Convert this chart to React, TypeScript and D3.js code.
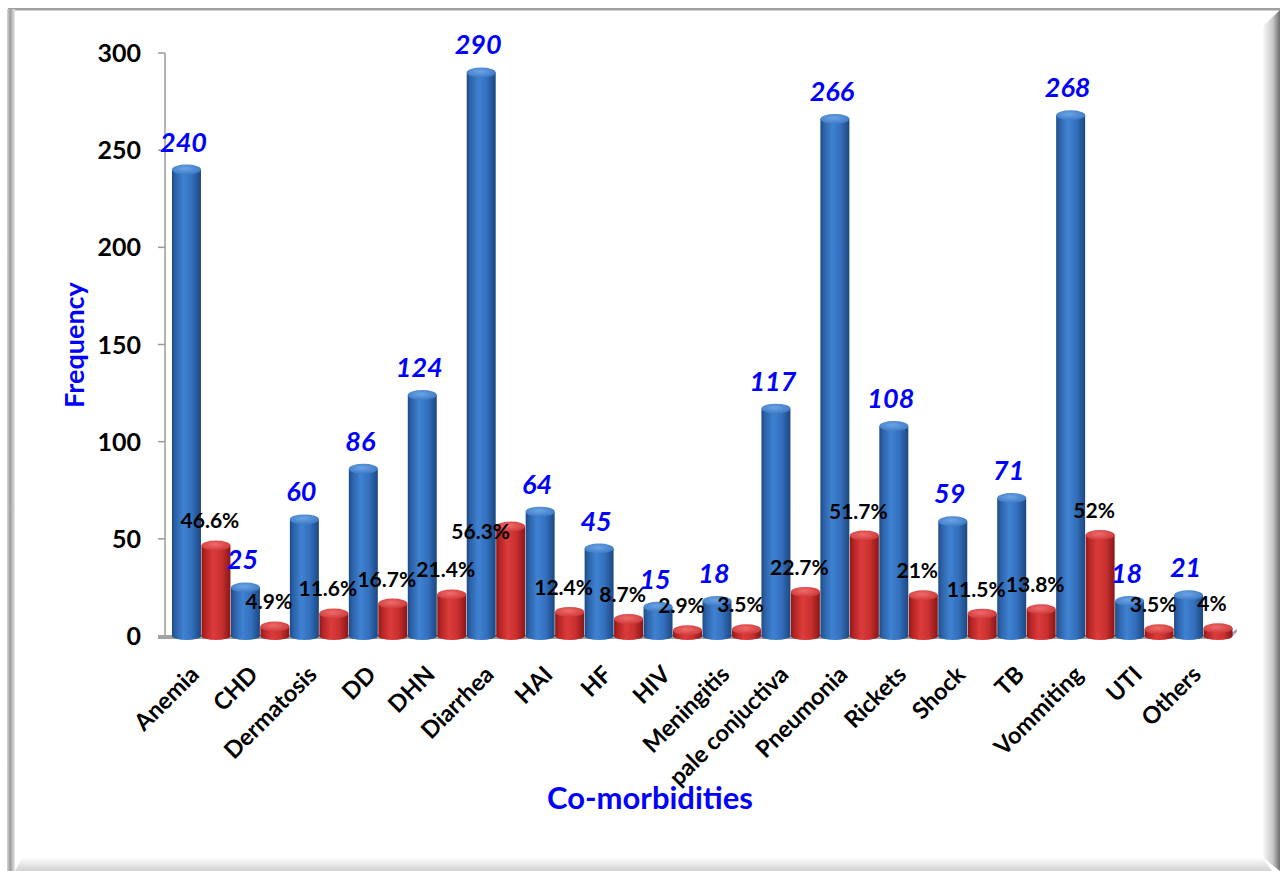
import React from "react";
import * as d3 from "d3";

const categories = [
  "Anemia", "CHD", "Dermatosis", "DD", "DHN", "Diarrhea", "HAI", "HF", "HIV",
  "Meningitis", "pale conjuctiva", "Pneumonia", "Rickets", "Shock", "TB",
  "Vommiting", "UTI", "Others",
];
const frequency = [240, 25, 60, 86, 124, 290, 64, 45, 15, 18, 117, 266, 108, 59, 71, 268, 18, 21];
const percent = [46.6, 4.9, 11.6, 16.7, 21.4, 56.3, 12.4, 8.7, 2.9, 3.5, 22.7, 51.7, 21, 11.5, 13.8, 52, 3.5, 4];
const percentLabels = ["46.6%", "4.9%", "11.6%", "16.7%", "21.4%", "56.3%", "12.4%", "8.7%", "2.9%", "3.5%", "22.7%", "51.7%", "21%", "11.5%", "13.8%", "52%", "3.5%", "4%"];
const yTicks = [0, 50, 100, 150, 200, 250, 300];
const seriesKeys = ["freq", "pct"];

const W = 1281;
const H = 871;
const FONT = "Lato, 'Open Sans', 'Liberation Sans', sans-serif";
const PCT_SIZE = 21;
const FREQ_SIZE = 27;

export default function App() {
  const y = d3.scaleLinear().domain([0, 300]).range([636, 53]);
  const x = d3.scaleBand<string>().domain(categories).range([172, 1233]).padding(0);
  const sub = d3.scaleBand<string>().domain(seriesKeys).range([0, x.bandwidth()]).padding(0);
  const bw = sub.bandwidth() - 0.5;
  const ry = 5;

  const cylinder = (key: string, i: number, v: number, kind: "blue" | "red") => {
    const x0 = (x(categories[i]) as number) + (sub(key) as number);
    const yTop = y(v);
    const yBase = y(0);
    const cx = x0 + bw / 2;
    return (
      <g key={key + i}>
        <rect x={x0} y={yTop} width={bw} height={Math.max(0, yBase - yTop)} fill={`url(#body-${kind})`} />
        <ellipse cx={cx} cy={yBase} rx={bw / 2} ry={ry - 1} fill={`url(#body-${kind})`} />
        <ellipse cx={cx} cy={yTop} rx={bw / 2} ry={ry} fill={`url(#cap-${kind})`} />
      </g>
    );
  };

  const freqX = (i: number) => (x(categories[i]) as number) + (sub("freq") as number) + bw / 2 - 3;
  const freqY = (i: number) => y(frequency[i]) - 18;
  const estWidth = (s: string, size: number) =>
    s.split("").reduce((a, ch) => a + (ch === "." ? 0.26 : ch === "%" ? 0.8 : 0.58) * size, 0);

  // percent label above its red bar, unless it would collide with the next blue value label
  const pctPos = categories.map((c, i) => {
    const rx = (x(c) as number) + (sub("pct") as number) + bw / 2;
    let px = rx - 6;
    let py = y(percent[i]) - 17;
    if (i + 1 < categories.length) {
      const right = px + estWidth(percentLabels[i], PCT_SIZE) / 2;
      const nextLeft = freqX(i + 1) - estWidth(String(frequency[i + 1]), FREQ_SIZE) / 2;
      if (Math.abs(freqY(i + 1) - py) < 26 && right - nextLeft > 10) {
        px = rx - 30;
        py = y(percent[i]) + 12;
      }
    }
    return [px, py];
  });

  return (
    <svg width={W} height={H} style={{ display: "block", position: "absolute", left: 0, top: 0 }}>
      <defs>
        <linearGradient id="body-blue" x1="0" x2="1" y1="0" y2="0">
          <stop offset="0" stopColor="#1d4a86" />
          <stop offset="0.12" stopColor="#2c62a8" />
          <stop offset="0.4" stopColor="#3f82d2" />
          <stop offset="0.7" stopColor="#336fbc" />
          <stop offset="1" stopColor="#1c4780" />
        </linearGradient>
        <linearGradient id="body-red" x1="0" x2="1" y1="0" y2="0">
          <stop offset="0" stopColor="#8f1717" />
          <stop offset="0.12" stopColor="#b42424" />
          <stop offset="0.4" stopColor="#dc3b3b" />
          <stop offset="0.7" stopColor="#c83030" />
          <stop offset="1" stopColor="#8a1616" />
        </linearGradient>
        <radialGradient id="cap-blue" cx="0.45" cy="0.4" r="0.7">
          <stop offset="0" stopColor="#6aa4e6" />
          <stop offset="1" stopColor="#3773c0" />
        </radialGradient>
        <radialGradient id="cap-red" cx="0.45" cy="0.4" r="0.7">
          <stop offset="0" stopColor="#f06a6a" />
          <stop offset="1" stopColor="#c83232" />
        </radialGradient>
        <linearGradient id="bevel-right" x1="0" x2="1" y1="0" y2="0">
          <stop offset="0" stopColor="#ffffff" />
          <stop offset="0.6" stopColor="#c8c8c8" />
          <stop offset="0.8" stopColor="#9a9a9a" />
          <stop offset="1" stopColor="#6e6e6e" />
        </linearGradient>
        <linearGradient id="bevel-bottom" x1="0" x2="0" y1="0" y2="1">
          <stop offset="0" stopColor="#ffffff" />
          <stop offset="1" stopColor="#d2d2d2" />
        </linearGradient>
        <linearGradient id="bevel-left" x1="0" x2="1" y1="0" y2="0">
          <stop offset="0" stopColor="#d8d8d8" />
          <stop offset="0.4" stopColor="#9c9c9c" />
          <stop offset="1" stopColor="#e8e8e8" />
        </linearGradient>
      </defs>

      <rect x={0} y={0} width={W} height={H} fill="#ffffff" />
      {/* frame */}
      <rect x={8} y={8} width={1272} height={2.5} fill="#a0a0a0" />
      <rect x={7} y={9} width={8} height={862} fill="url(#bevel-left)" />
      <polygon points="1262,27 1280,10 1280,871 1262,857" fill="url(#bevel-right)" />
      <polygon points="23,857 1262,857 1272,871 15,871" fill="url(#bevel-bottom)" />

      {/* y axis */}
      <line x1={165} x2={165} y1={y(300)} y2={y(0) + 2} stroke="#9a9a9a" strokeWidth={1.5} />
      {yTicks.map((t) => (
        <g key={t}>
          <line x1={158} x2={165} y1={y(t)} y2={y(t)} stroke="#9a9a9a" strokeWidth={1.5} />
          <text x={141} y={y(t)} dy="0.36em" textAnchor="end" fontFamily={FONT} fontWeight="bold" fontSize={25} fill="#000">
            {t}
          </text>
        </g>
      ))}

      {/* floor */}
      <polygon points="158,635 1228,635 1237,629 1237,632 1229,639 158,639" fill="#a3a3a3" />

      {/* bars */}
      {categories.map((c, i) => (
        <g key={c}>
          {cylinder("freq", i, frequency[i], "blue")}
          {cylinder("pct", i, percent[i], "red")}
        </g>
      ))}

      {/* labels */}
      {categories.map((c, i) => (
        <g key={"lab" + c}>
          <text x={freqX(i)} y={freqY(i)} textAnchor="middle" fontFamily={FONT} fontWeight="bold" fontStyle="italic" fontSize={FREQ_SIZE} fill="#0000ff">
            {frequency[i]}
          </text>
          <text x={pctPos[i][0]} y={pctPos[i][1]} textAnchor="middle" fontFamily={FONT} fontWeight="bold" fontSize={PCT_SIZE} fill="#000">
            {percentLabels[i]}
          </text>
        </g>
      ))}

      {/* x tick labels */}
      {categories.map((c) => {
        const cx = (x(c) as number) + x.bandwidth() / 2;
        return (
          <text key={"xl" + c} transform={`translate(${cx - 1},${676}) rotate(-45)`} textAnchor="end" fontFamily={FONT} fontWeight="bold" fontSize={23.5} fill="#000">
            {c}
          </text>
        );
      })}

      {/* axis titles */}
      <text transform="translate(84,345) rotate(-90)" textAnchor="middle" fontFamily={FONT} fontWeight="bold" fontSize={27} fill="#0000ff">
        Frequency
      </text>
      <text x={650} y={809} textAnchor="middle" fontFamily={FONT} fontWeight="bold" fontSize={31} fill="#0000ff">
        Co-morbidities
      </text>
    </svg>
  );
}
